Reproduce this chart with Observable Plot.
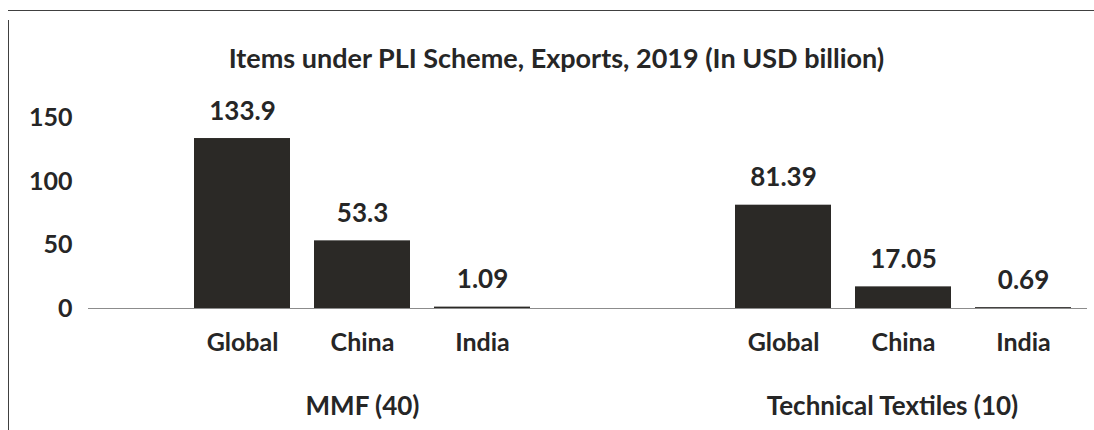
<!DOCTYPE html>
<html>
<head>
<meta charset="utf-8">
<script src="https://cdn.jsdelivr.net/npm/d3@7"></script>
<script src="https://cdn.jsdelivr.net/npm/@observablehq/plot@0.6"></script>
<style>
  html, body { margin: 0; padding: 0; background: #fff; overflow: hidden; width: 1094px; height: 430px; }
  #wrap { position: relative; width: 1094px; height: 430px; overflow: hidden; font-family: Lato, "Open Sans", sans-serif; color: #262626; background: #fff; }
  #lineTop { position: absolute; left: 8px; top: 10px; width: 1086px; height: 1px; background: #404040; z-index: 5; }
  #lineLeft { position: absolute; left: 8px; top: 20px; width: 1px; height: 410px; background: #404040; z-index: 5; }
  #title { position: absolute; left: 9px; top: 0; width: 1085px; height: 80px; box-sizing: border-box; padding-top: 42px; padding-left: 10px; line-height: 32px; font-size: 27px; font-weight: bold; text-align: center; white-space: nowrap; overflow: hidden; }
  #chart { position: absolute; left: 0; top: 80px; width: 1094px; height: 350px; overflow: hidden; }
</style>
</head>
<body>
<div id="wrap">
  <div id="title">Items under PLI Scheme, Exports, 2019 (In USD billion)</div>
  <div id="chart"></div>
  <div id="lineTop"></div>
  <div id="lineLeft"></div>
</div>
<script>
const groups = ["MMF (40)", "Technical Textiles (10)"];
const categories = ["Global", "China", "India"];
const mmfValues = [133.9, 53.3, 1.09];
const ttValues = [81.39, 17.05, 0.69];
const yTicks = [0, 50, 100, 150];

const seriesByGroup = [mmfValues, ttValues];
const data = groups.flatMap((g, gi) =>
  categories.map((c, ci) => ({group: g, category: c, value: seriesByGroup[gi][ci]}))
);

const textColor = "#262626";
const barColor = "#2b2926";
const fontStack = "Lato, 'Open Sans', sans-serif";

const chart = Plot.plot({
  width: 1094,
  height: 350,
  marginLeft: 88,
  marginRight: 0,
  marginTop: 37.6,
  marginBottom: 122,
  style: {fontFamily: fontStack, fontSize: "25px", fontWeight: "bold", color: textColor, background: "transparent"},
  fx: {domain: groups, paddingInner: 0.1405, paddingOuter: 0, axis: null, label: null},
  x: {domain: categories, paddingInner: 0.2, paddingOuter: 0.526, align: 0.82, tickSize: 0, tickPadding: 25, label: null, fontSize: 26},
  y: {domain: [0, 150], ticks: yTicks, tickSize: 0, tickPadding: 16, label: null},
  marks: [
    Plot.barY(data, {fx: "group", x: "category", y: "value", fill: barColor}),
    Plot.ruleY([groups[0]], {fx: d => d, y: () => 0, stroke: "#8c8c8c", strokeWidth: 1, insetRight: -76}),
    Plot.ruleY([groups[1]], {fx: d => d, y: () => 0, stroke: "#8c8c8c", strokeWidth: 1, insetRight: 7}),
    Plot.text(data, {fx: "group", x: "category", y: "value", text: d => String(d.value), lineAnchor: "bottom", dy: -19, fill: textColor, fontSize: 26, fontWeight: "bold"}),
    Plot.text([groups[0]], {fx: d => d, x: () => categories[1], y: () => 0, text: d => d, lineAnchor: "bottom", dy: 106, fill: textColor, fontSize: 26, fontWeight: "bold"}),
    Plot.text([groups[1]], {fx: d => d, x: () => categories[1], y: () => 0, text: d => d, lineAnchor: "bottom", dy: 106, dx: -11, fill: textColor, fontSize: 26, fontWeight: "bold"})
  ]
});
document.getElementById("chart").appendChild(chart);
</script>
</body>
</html>
